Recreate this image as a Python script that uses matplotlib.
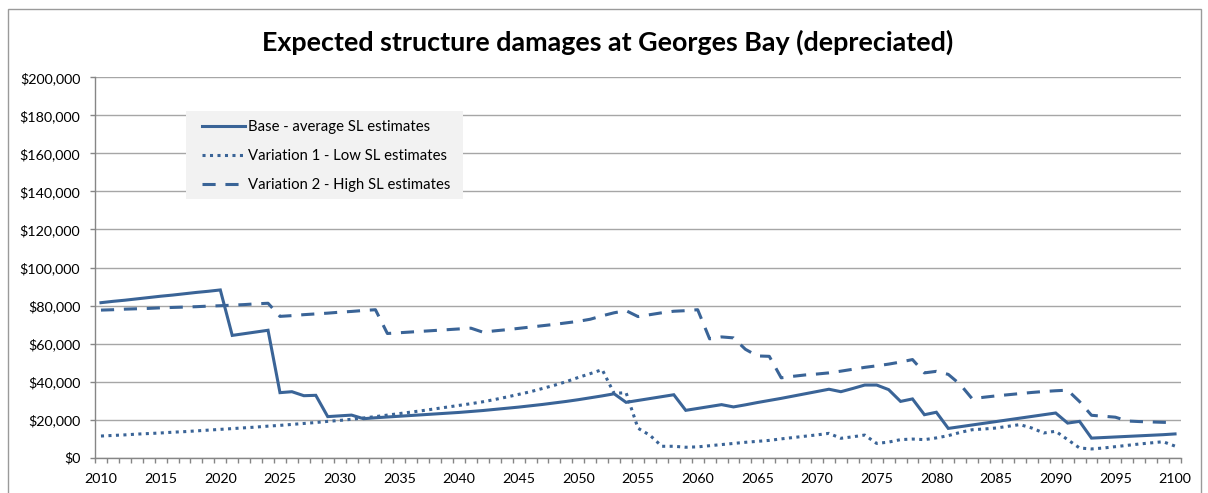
import numpy as np
import matplotlib
matplotlib.use("Agg")
import matplotlib.pyplot as plt
from matplotlib.patches import Rectangle
from matplotlib.ticker import FixedLocator, FuncFormatter

plt.rcParams['font.family'] = ['Lato', 'DejaVu Sans']

# ---------------- data (thousands of dollars) ----------------
years = list(range(2010, 2101))

base_k = [81.5, 82.2, 82.8, 83.5, 84.2, 84.9, 85.5, 86.2, 86.9, 87.5,
          88.2, 64.3, 65.2, 66.1, 67.0, 34.2, 34.7, 32.6, 32.8, 21.6,
          22.0, 22.4, 20.5, 21.0, 21.4, 21.8, 22.2, 22.6, 23.0, 23.4,
          23.8, 24.3, 24.8, 25.4, 26.0, 26.6, 27.3, 28.0, 28.8, 29.6,
          30.5, 31.5, 32.5, 33.6, 29.1, 30.1, 31.1, 32.1, 33.1, 24.9,
          25.9, 26.9, 27.9, 26.7, 27.8, 29.0, 30.1, 31.2, 32.4, 33.6,
          34.8, 36.0, 34.7, 36.4, 38.2, 38.2, 35.8, 29.6, 30.9, 22.6,
          23.9, 15.4, 16.3, 17.2, 18.1, 19.0, 19.9, 20.8, 21.7, 22.6,
          23.5, 18.2, 19.1, 10.3, 10.6, 10.9, 11.2, 11.5, 11.8, 12.1,
          12.5]

low_k = [11.4, 11.7, 12.0, 12.4, 12.7, 13.0, 13.4, 13.7, 14.1, 14.5,
         14.9, 15.3, 15.7, 16.1, 16.6, 17.0, 17.5, 18.0, 18.5, 19.1,
         19.6, 20.2, 20.9, 21.6, 22.4, 23.2, 24.0, 24.8, 25.7, 26.6,
         27.5, 28.4, 29.4, 30.6, 31.9, 33.3, 34.7, 36.4, 38.1, 40.0,
         42.2, 44.2, 46.3, 33.8, 34.2, 15.5, 11.8, 6.0, 6.0, 5.5,
         5.7, 6.3, 6.9, 7.5, 8.1, 8.6, 9.1, 9.9, 10.6, 11.3,
         12.0, 12.8, 10.2, 11.0, 11.9, 7.5, 8.2, 9.5, 9.8, 9.5,
         10.4, 11.6, 13.3, 14.7, 15.1, 15.6, 16.5, 17.4, 15.6, 13.0,
         13.9, 9.5, 5.1, 4.6, 5.1, 5.8, 6.5, 7.2, 7.8, 8.4,
         6.1]

high_k = [77.6, 77.8, 78.1, 78.3, 78.5, 78.8, 79.0, 79.2, 79.4, 79.7,
          79.9, 80.2, 80.5, 80.9, 81.2, 74.3, 74.7, 75.2, 75.6, 76.0,
          76.5, 76.9, 77.4, 77.8, 65.3, 65.7, 66.1, 66.5, 66.9, 67.3,
          67.7, 68.1, 66.0, 66.7, 67.3, 68.0, 68.7, 69.4, 70.1, 70.9,
          71.7, 72.8, 74.6, 76.2, 77.3, 74.2, 75.2, 76.2, 77.0, 77.3,
          77.8, 62.5, 63.5, 63.0, 57.0, 53.5, 53.3, 42.0, 42.8, 43.5,
          44.0, 44.6, 45.5, 46.5, 47.5, 48.3, 49.2, 50.3, 51.6, 44.6,
          45.4, 43.8, 38.5, 31.0, 31.8, 32.5, 33.1, 33.7, 34.3, 34.8,
          35.2, 35.5, 29.5, 22.3, 21.8, 21.3, 19.3, 19.0, 18.8, 18.6,
          18.4]

labels = ["Base - average SL estimates",
          "Variation 1 - Low SL estimates",
          "Variation 2 - High SL estimates"]
title = "Expected structure damages at Georges Bay (depreciated)"
xtick_years = list(range(2010, 2101, 5))
ytick_values = list(range(0, 200001, 20000))

# ---------------- figure ----------------
W, H = 1208, 493
fig = plt.figure(figsize=(W / 100, H / 100), dpi=100)

def fx(px):
    return px / W

def fy(py):
    return 1 - py / H

L, R, T, B = 95, 1181, 77.3, 457.7
ax = fig.add_axes([fx(L), fy(B), fx(R) - fx(L), fy(T) - fy(B)])

color = '#3A6497'
lw = 2.2
yrs = np.array(years)
ax.plot(yrs, np.array(base_k) * 1000, color=color, lw=lw, solid_joinstyle='miter',
        label=labels[0], zorder=4)
ax.plot(yrs, np.array(low_k) * 1000, color=color, lw=lw, linestyle=(0, (1.0, 1.45)),
        dash_capstyle='butt', label=labels[1], zorder=4)
ax.plot(yrs, np.array(high_k) * 1000, color=color, lw=lw, linestyle=(0, (4.3, 3.2)),
        dash_capstyle='butt', label=labels[2], zorder=4)

ax.set_xlim(2009.5, 2100.5)
ax.set_ylim(0, 200000)

grid_c = '#A6A6A6'
ax.yaxis.set_major_locator(FixedLocator(ytick_values))
ax.yaxis.set_major_formatter(FuncFormatter(lambda v, p: "${:,.0f}".format(v)))
ax.xaxis.set_major_locator(FixedLocator(xtick_years))
ax.xaxis.set_major_formatter(FuncFormatter(lambda v, p: "%d" % v))
ax.xaxis.set_minor_locator(FixedLocator(np.arange(2009.5, 2101.0, 1.0)))

ax.grid(axis='y', color=grid_c, lw=1.0, zorder=0)
ax.set_axisbelow(True)
for s in ['top', 'right']:
    ax.spines[s].set_visible(False)
for s in ['left', 'bottom']:
    ax.spines[s].set_color('#868686')
    ax.spines[s].set_linewidth(1.0)

tick_fs = 10.3
leg_fs = 10.7
ax.tick_params(axis='y', which='major', length=3.6, width=1.0, color='#868686',
               pad=7, labelsize=tick_fs, labelcolor='black')
ax.tick_params(axis='x', which='major', length=0, pad=11, labelsize=tick_fs,
               labelcolor='black')
ax.tick_params(axis='x', which='minor', length=3.6, width=1.0, color='#868686')

# chart-area border
fig.add_artist(Rectangle((fx(8), -0.1), fx(1201) - fx(8), fy(9) + 0.1,
                         transform=fig.transFigure, fill=False,
                         edgecolor='#9A9A9A', lw=1.0))

# title
fig.text(fx(608), fy(42), title, ha='center', va='center',
         fontsize=19.4, fontweight='bold', color='black')

# legend background
ax.add_patch(Rectangle((fx(186), fy(199)), fx(463) - fx(186), fy(111) - fy(199),
                       transform=fig.transFigure, facecolor='#F2F2F2',
                       edgecolor='none', zorder=3))
leg = ax.legend(loc='upper left', bbox_to_anchor=(fx(202), fy(120)),
                bbox_transform=fig.transFigure, frameon=False,
                fontsize=leg_fs, handlelength=2.9, handletextpad=0.22,
                labelspacing=1.02, borderpad=0.0, borderaxespad=0.0)
leg.set_zorder(5)

fig.savefig('out.png', dpi=100)
